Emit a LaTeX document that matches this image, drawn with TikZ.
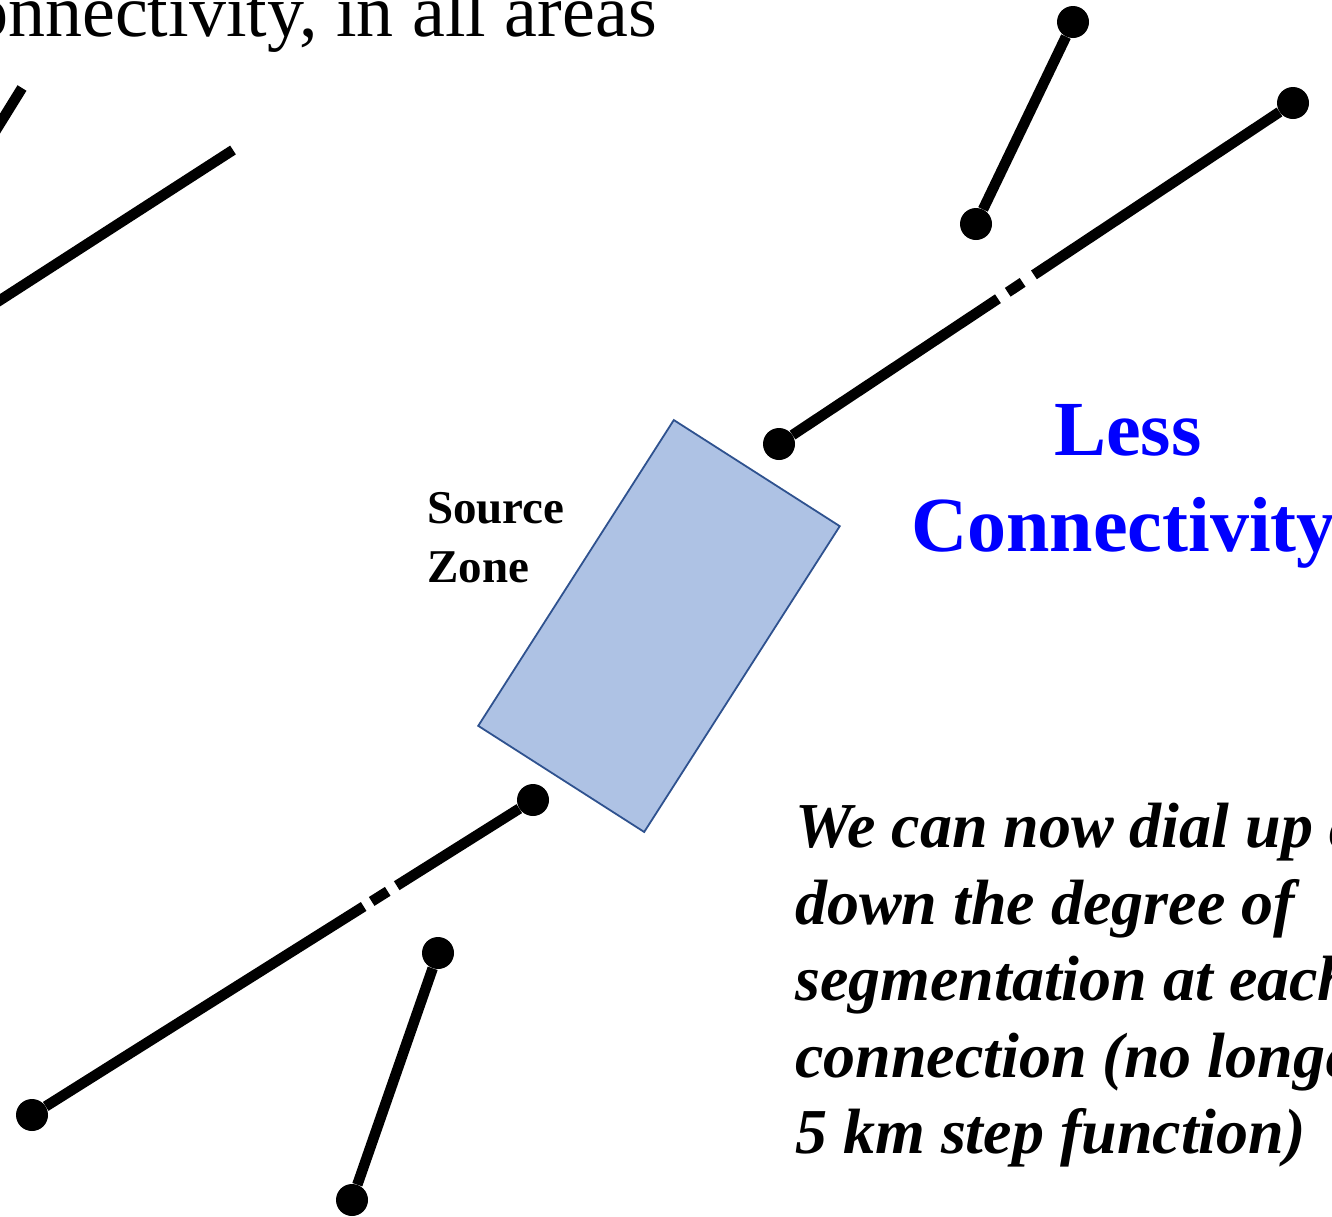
\documentclass[tikz,border=0pt]{standalone}
\usepackage{fontspec}
\setmainfont{Liberation Serif}
\usetikzlibrary{positioning,calc}

\definecolor{zonefill}{HTML}{AEC2E4}
\definecolor{zoneedge}{HTML}{2F528F}
\tikzset{
  wire/.style={line width=10.5pt},
  pin/.style={circle,fill=black,inner sep=0pt,minimum size=32pt},
  blurb/.style={inner sep=0pt,align=left}
}

\begin{document}
\begin{tikzpicture}[x=1pt,y=-1pt]
  \useasboundingbox (0,0) rectangle (1332,1216);
  \clip (0,0) rectangle (1332,1216);

  % heading, cut by the frame
  \node[anchor=base east,inner sep=0pt] (head) at (657,36)
    {\fontsize{74}{88}\selectfont connectivity, in all areas};

  % faults leaving the frame on the left
  \coordinate (a1) at (22,88);
  \coordinate (a2) at (-30,172);
  \coordinate (b1) at (233,150);
  \coordinate (b2) at (-40,326);
  \draw[wire] (a1) -- (a2);
  \draw[wire] (b1) -- (b2);

  % source zone
  \node[draw=zoneedge,fill=zonefill,line width=1.8pt,minimum width=363pt,
        minimum height=197pt,rotate=57.4] (zone) at (659,626) {};
  \node[blurb,anchor=north west,font=\bfseries\fontsize{47}{59}\selectfont]
    (srclab) at (427,492) {Source\\Zone};

  % upper connections
  \node[pin] (u1) at (779,444) {};
  \node[pin] (u2) at (1293,103) {};
  \node[pin] (v1) at (976,224) {};
  \node[pin] (v2) at (1073,22) {};
  \draw[wire] (u1) -- ($(u1)!0.426!(u2)$);
  \draw[wire] ($(u1)!0.445!(u2)$) -- ($(u1)!0.474!(u2)$);
  \draw[wire] ($(u1)!0.496!(u2)$) -- (u2);
  \draw[wire] (v1) -- (v2);

  % lower connections
  \node[pin] (l1) at (533,800) {};
  \node[pin] (l2) at (32,1115) {};
  \node[pin] (m1) at (438,953) {};
  \node[pin] (m2) at (352,1200) {};
  \draw[wire] (l1) -- ($(l1)!0.272!(l2)$);
  \draw[wire] ($(l1)!0.29!(l2)$) -- ($(l1)!0.322!(l2)$);
  \draw[wire] ($(l1)!0.338!(l2)$) -- (l2);
  \draw[wire] (m1) -- (m2);

  % notes
  \node[blurb,anchor=north,text=blue,font=\bfseries\fontsize{78}{95}\selectfont]
    (less) at (1128,404) {Less};
  \node[blurb,anchor=north west,text=blue,font=\bfseries\fontsize{78}{95}\selectfont]
    (conn) at (911,497) {Connectivity};
  \node[blurb,anchor=north west,font=\bfseries\itshape\fontsize{64}{76.5}\selectfont]
    (dial) at (795,803) {We can now dial up and\\down the degree of\\segmentation at each\\connection (no longer a\\5 km step function)};
\end{tikzpicture}
\end{document}
